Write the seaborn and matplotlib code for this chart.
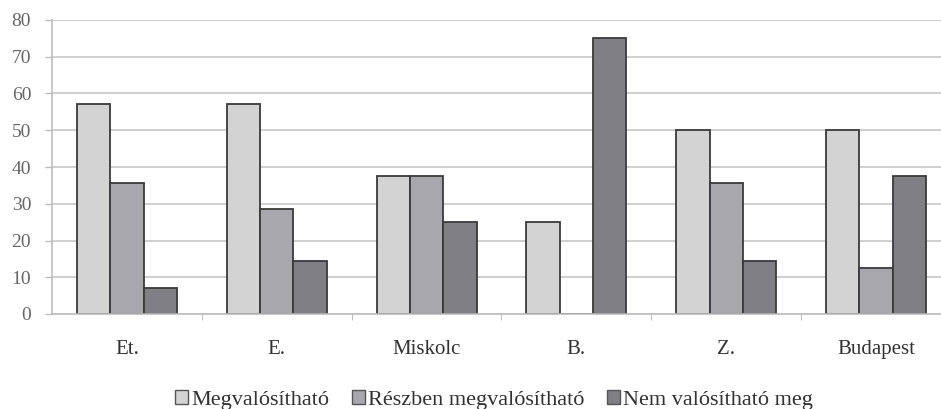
import matplotlib
matplotlib.use("Agg")
import matplotlib.pyplot as plt
import seaborn as sns
import pandas as pd
from matplotlib.patches import Patch

# Settlements and the share (%) of answers in each category
categories = ["Et.", "E.", "Miskolc", "B.", "Z.", "Budapest"]
series_names = ["Megvalósítható", "Részben megvalósítható", "Nem valósítható meg"]
megvalosithato = [57.1, 57.1, 37.5, 25.0, 50.0, 50.0]
reszben = [35.7, 28.6, 37.5, 0.0, 35.7, 12.5]
nem = [7.1, 14.3, 25.0, 75.0, 14.3, 37.5]
y_ticks = [0, 10, 20, 30, 40, 50, 60, 70, 80]

rows = []
for name, vals in zip(series_names, [megvalosithato, reszben, nem]):
    for cat, v in zip(categories, vals):
        rows.append({"hely": cat, "valasz": name, "arany": v})
df = pd.DataFrame(rows)

sns.set_theme(style="white")
plt.rcParams["font.family"] = ["Liberation Serif", "DejaVu Serif"]

palette = ["#d3d3d3", "#a8a8ac", "#7f7f84"]

fig = plt.figure(figsize=(9.41, 4.09), dpi=100)
ax = fig.add_axes([52 / 941, 1 - 314 / 409, 899 / 941, 294 / 409])

sns.barplot(data=df, x="hely", y="arany", hue="valasz", order=categories,
            hue_order=series_names, palette=palette, width=0.667,
            edgecolor="#3a3a3a", linewidth=1.3, saturation=1, ax=ax,
            legend=False)

ax.set_ylim(0, 80)
ax.set_xlim(-0.5, len(categories) - 0.5)
ax.set_yticks(y_ticks)
ax.yaxis.grid(True, color="#cfcfcf", linewidth=1.4)
ax.set_axisbelow(True)
ax.set_xlabel("")
ax.set_ylabel("")

for side in ["top", "right"]:
    ax.spines[side].set_visible(False)
ax.spines["left"].set_color("#bdbdbd")
ax.spines["left"].set_linewidth(1.2)
ax.spines["bottom"].set_color("#bdbdbd")
ax.spines["bottom"].set_linewidth(1.2)

ax.tick_params(axis="y", which="major", left=True, length=5, width=1.0,
               color="#bdbdbd", labelsize=14, labelcolor="#666666", pad=10)
ax.tick_params(axis="x", which="major", bottom=False, labelsize=15,
               labelcolor="#333333", pad=13)

# small separators between the groups on the category axis
ax.set_xticks([i + 0.5 for i in range(len(categories) - 1)], minor=True)
ax.tick_params(axis="x", which="minor", bottom=True, length=4, width=0.8,
               color="#bdbdbd")

handles = [Patch(facecolor=c, edgecolor="#555555", linewidth=1.0) for c in palette]
fig.legend(handles, series_names, loc="center", bbox_to_anchor=(494 / 941, 1 - 400 / 409),
           ncol=3, frameon=False, fontsize=16, handlelength=0.6, handleheight=0.6,
           handletextpad=0.15, columnspacing=1.0, labelcolor="#333333",
           borderpad=0.0)

fig.savefig("out.png", dpi=100)
